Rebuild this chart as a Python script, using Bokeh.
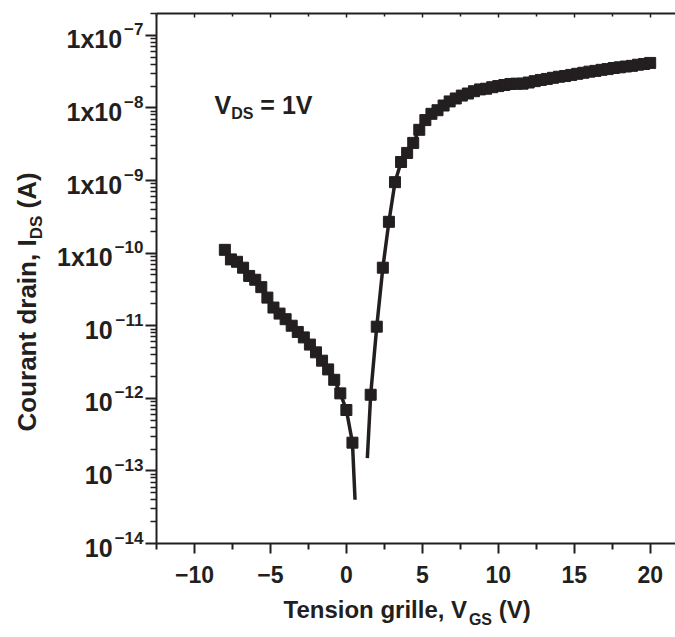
import math
from bokeh.plotting import figure
from bokeh.models import Label, FixedTicker, LinearAxis, LogAxis, Range1d
from bokeh.embed import file_html
from bokeh.resources import INLINE

# ---------------- data ----------------
vgs_off = [-8.0, -7.6, -7.2, -6.8, -6.4, -6.0, -5.6, -5.2, -4.8, -4.4, -4.0,
           -3.6, -3.2, -2.8, -2.4, -2.0, -1.6, -1.2, -0.8, -0.4, 0.0, 0.4]
ids_off = [1.11e-10, 8.2e-11, 7.6e-11, 6.3e-11, 4.85e-11, 4.3e-11, 3.4e-11,
           2.44e-11, 1.78e-11, 1.47e-11, 1.23e-11, 1.0e-11, 8.2e-12, 6.9e-12,
           5.5e-12, 4.3e-12, 3.3e-12, 2.5e-12, 1.8e-12, 1.17e-12, 6.9e-13, 2.45e-13]
tail_off_v = [0.57]
tail_off_i = [4.0e-14]

vgs_on = [1.6, 2.0, 2.4, 2.8, 3.2, 3.6, 4.0, 4.4, 4.8, 5.2, 5.6, 6.0, 6.4, 6.8,
          7.2, 7.6, 8.0, 8.4, 8.8, 9.2, 9.6, 10.0, 10.4, 10.8, 11.2, 11.6, 12.0,
          12.4, 12.8, 13.2, 13.6, 14.0, 14.4, 14.8, 15.2, 15.6, 16.0, 16.4,
          16.8, 17.2, 17.6, 18.0, 18.4, 18.8, 19.2, 19.6, 20.0]
ids_on = [1.12e-12, 9.7e-12, 6.3e-11, 2.7e-10, 9.5e-10, 1.8e-9, 2.4e-9, 3.3e-9,
          5.0e-9, 6.8e-9, 8.3e-9, 9.3e-9, 1.08e-8, 1.23e-8, 1.35e-8, 1.48e-8,
          1.58e-8, 1.70e-8, 1.80e-8, 1.84e-8, 1.93e-8, 2.0e-8, 2.07e-8, 2.14e-8,
          2.16e-8, 2.16e-8, 2.24e-8, 2.34e-8, 2.43e-8, 2.51e-8, 2.60e-8, 2.69e-8,
          2.75e-8, 2.85e-8, 2.95e-8, 3.05e-8, 3.16e-8, 3.24e-8, 3.35e-8, 3.43e-8,
          3.55e-8, 3.63e-8, 3.72e-8, 3.80e-8, 3.94e-8, 4.03e-8, 4.17e-8]
head_on_v = [1.38]
head_on_i = [1.5e-13]

x_ticks = [-10, -5, 0, 5, 10, 15, 20]
x_minor = [-12.5, -7.5, -2.5, 2.5, 7.5, 12.5, 17.5]
x_tick_labels = {-10: "\u221210", -5: "\u22125"}
y_decades = [-7, -8, -9, -10, -11, -12, -13, -14]
y_label_main = ["1x10", "1x10", "1x10", "1x10", "10", "10", "10", "10"]

FONT = "Liberation Sans"
INK = "#231f20"

W = {" ": .278, "(": .333, ")": .333, ",": .278, "-": .333, "=": .584,
     "\u2212": .584, "A": .722, "C": .722, "D": .722, "G": .778, "I": .278,
     "S": .667, "T": .611, "V": .667, "a": .556, "c": .556, "d": .611,
     "e": .556, "g": .611, "i": .278, "l": .278, "n": .611, "o": .611,
     "r": .389, "s": .556, "t": .333, "u": .611, "x": .556}


def tw(s, fs):
    return sum(W.get(c, .556) for c in s) * fs


# ---------------- layout (page pixels) ----------------
PW, PH = 675, 637
AX_L, AX_B, AX_T = -12.5, 1e-14, 2e-7      # axis box in data units
FL, FB, FT = 156, 543, 13                  # where the axis box sits on the page
X_PPU = 15.19                              # px per volt
Y_PPD = (FB - FT) / (math.log10(AX_T) - math.log10(AX_B))
x0 = AX_L - FL / X_PPU
x1 = AX_L + (PW - FL) / X_PPU
y0 = 10 ** (math.log10(AX_B) - (PH - FB) / Y_PPD)
y1 = 10 ** (math.log10(AX_T) + FT / Y_PPD)

p = figure(width=PW, height=PH, x_range=Range1d(x0, x1), y_range=Range1d(y0, y1),
           y_axis_type="log", output_backend="svg", toolbar_location=None,
           min_border=0, x_axis_location=None, y_axis_location=None)
p.outline_line_color = None
p.grid.visible = False
p.background_fill_color = "white"
p.border_fill_color = "white"


def style(ax, lw_major=2, lw_minor=1.5):
    ax.axis_line_width = 2
    ax.axis_line_color = INK
    ax.major_tick_line_color = INK
    ax.minor_tick_line_color = INK
    ax.major_tick_line_width = lw_major
    ax.minor_tick_line_width = lw_minor


# bottom axis with real tick labels
xb = LinearAxis(ticker=FixedTicker(ticks=x_ticks, minor_ticks=x_minor),
                major_label_overrides=x_tick_labels, fixed_location=AX_B,
                bounds=(AX_L, x1))
style(xb, 2, 2)
xb.major_tick_in, xb.major_tick_out = 0, 10
xb.minor_tick_in, xb.minor_tick_out = 0, 6
xb.major_label_text_font = FONT
xb.major_label_text_font_style = "bold"
xb.major_label_text_font_size = "23px"
xb.major_label_text_color = INK
xb.major_label_standoff = 12
p.add_layout(xb, "below")

# top axis, ticks only
xt = LinearAxis(ticker=FixedTicker(ticks=x_ticks, minor_ticks=x_minor),
                major_label_overrides={t: "" for t in x_ticks},
                fixed_location=AX_T, bounds=(AX_L, x1))
style(xt, 1.5, 1.5)
xt.major_tick_in, xt.major_tick_out = 4, 0
xt.minor_tick_in, xt.minor_tick_out = 3, 0
xt.major_label_text_font_size = "1px"
p.add_layout(xt, "above")

# left log axis; labels with superscripts drawn as text below
y_major = [10.0 ** d for d in y_decades]
y_minor = [k * 10.0 ** d for d in range(-14, -6) for k in range(2, 10)
           if k * 10.0 ** d <= AX_T]
yl = LogAxis(ticker=FixedTicker(ticks=y_major, minor_ticks=y_minor),
             major_label_overrides={t: "" for t in y_major},
             fixed_location=AX_L, bounds=(AX_B, AX_T))
style(yl, 2, 1.5)
yl.major_tick_in, yl.major_tick_out = 0, 11
yl.minor_tick_in, yl.minor_tick_out = 0, 6
yl.major_label_text_font_size = "1px"
p.add_layout(yl, "left")

# data
p.line(vgs_off + tail_off_v, ids_off + tail_off_i, line_color=INK, line_width=3.5)
p.line(head_on_v + vgs_on, head_on_i + ids_on, line_color=INK, line_width=3.5)
p.scatter(vgs_off, ids_off, marker="square", size=11, fill_color=INK, line_color=INK)
p.scatter(vgs_on, ids_on, marker="square", size=11, fill_color=INK, line_color=INK)


def put(text, X, Yc, fs, align="left", angle=0.0):
    """Text whose capitals are centred on page row Yc (page px, origin top-left)."""
    p.add_layout(Label(x=X, y=PH - (Yc - 1), x_units="screen", y_units="screen",
                       text=text, angle=angle, text_align=align,
                       text_baseline="alphabetic", text_font=FONT,
                       text_font_style="bold", text_font_size=f"{fs}px",
                       text_color=INK))


def composite(parts, X, Yc, angle=0.0):
    """parts: (text, font size, shift of cap-centre, +down in text frame)."""
    pos = 0.0
    ca, sa = math.cos(angle), math.sin(angle)
    for text, fs, shift in parts:
        lead = len(text) - len(text.lstrip(" "))
        pos += tw(" " * lead, fs)
        text = text.lstrip(" ")
        dX = pos * ca + shift * sa
        dY = -pos * sa + shift * ca
        put(text, X + dX, Yc + dY, fs, angle=angle)
        pos += tw(text, fs)


# y tick labels
TFS, SFS = 25, 17
for d, main in zip(y_decades, y_label_main):
    Yt = FB - (d - math.log10(AX_B)) * Y_PPD
    sup = "\u2212" + str(-d)
    put(sup, FL - 13, Yt - 5, SFS, align="right")
    put(main, FL - 15 - tw(sup, SFS), Yt + 5, TFS, align="right")

AFS, SUBFS = 24, 16
composite([("Tension grille, V", AFS, 0), ("GS", SUBFS, 10), (" (V)", AFS, 0)], 283, 610)
composite([("Courant drain, I", 26, 0), ("DS", 17, 10), (" (A)", 26, 0)], 26, 432,
          angle=math.pi / 2)
composite([("V", 25, 0), ("DS", SUBFS, 9), (" = 1V", 25, 0)], 214, 105)

open("out.html", "w").write(file_html(p, INLINE))
